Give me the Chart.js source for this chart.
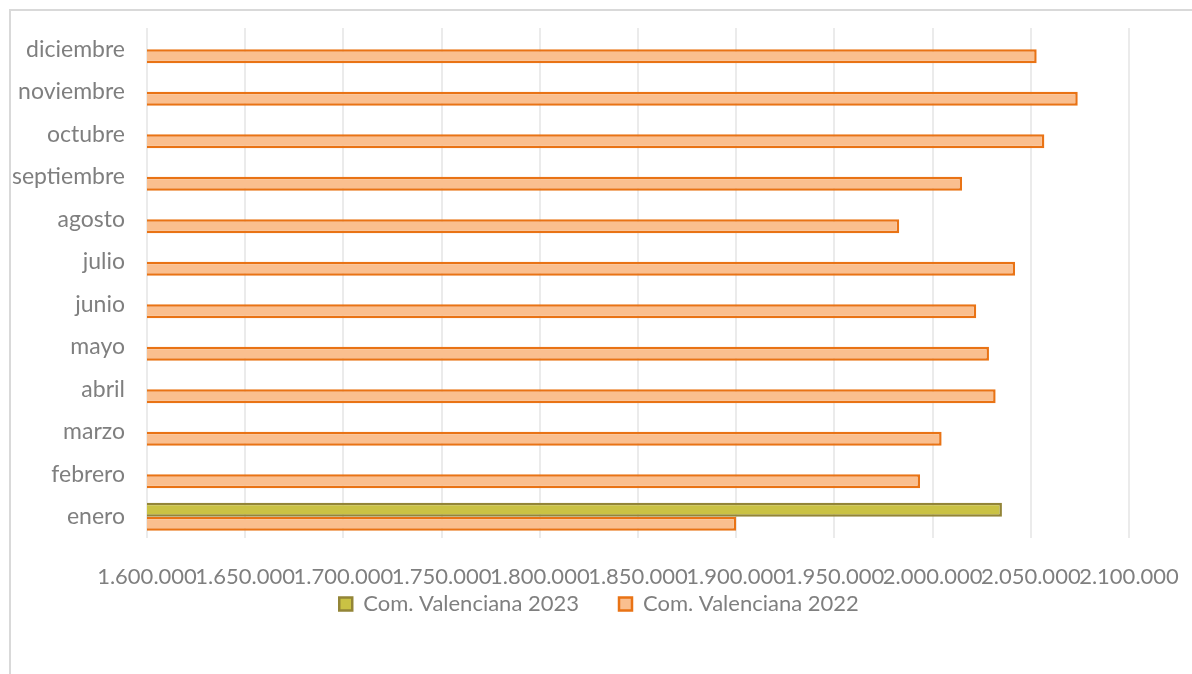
<!DOCTYPE html>
<html>
<head>
<meta charset="utf-8">
<script src="https://cdn.jsdelivr.net/npm/chart.js@4.4.1/dist/chart.umd.min.js"></script>
<style>
  html, body { margin: 0; padding: 0; background: #ffffff; }
  #wrap { width: 1192px; height: 674px; position: relative; }
</style>
</head>
<body>
<div id="wrap"><canvas id="c" width="1192" height="674"></canvas></div>
<script>
const months = ['enero','febrero','marzo','abril','mayo','junio','julio','agosto','septiembre','octubre','noviembre','diciembre'];
const label2023 = 'Com. Valenciana 2023';
const label2022 = 'Com. Valenciana 2022';
const values2023 = [2035300, null, null, null, null, null, null, null, null, null, null, null];
const values2022 = [1900000, 1993600, 2004600, 2032100, 2028700, 2022200, 2042000, 1983000, 2015000, 2056900, 2073900, 2053000];
const xMin = 1600000;
const xMax = 2100000;
const xStep = 50000;

function fmt(v) {
  return String(Math.round(v)).replace(/\B(?=(\d{3})+(?!\d))/g, '.');
}

const frame = {
  id: 'frame',
  beforeDraw(chart) {
    const ctx = chart.ctx;
    ctx.save();
    ctx.fillStyle = '#ffffff';
    ctx.fillRect(0, 0, chart.width, chart.height);
    ctx.strokeStyle = '#d9d9d9';
    ctx.lineWidth = 2;
    ctx.beginPath();
    ctx.moveTo(10, chart.height);
    ctx.lineTo(10, 10);
    ctx.lineTo(chart.width, 10);
    ctx.stroke();
    ctx.restore();
  }
};

// place the legend row just under the tick labels, centred on the page
const legendShift = {
  id: 'legendShift',
  afterLayout(chart) {
    const lg = chart.legend;
    if (lg) {
      const d = lg.top - 553;
      lg.top -= d;
      lg.bottom -= d;
      const cx = (lg.left + lg.right) / 2;
      const dx = 599 - cx;
      lg.left += dx;
      lg.right += dx;
    }
  }
};

const FONT = 'Lato, "Open Sans", sans-serif';
const TXT = '#7f7f7f';

new Chart(document.getElementById('c'), {
  type: 'bar',
  data: {
    labels: months,
    datasets: [
      {
        label: label2023,
        data: values2023,
        backgroundColor: '#cac244',
        borderColor: '#938537',
        borderWidth: 2.5,
        borderSkipped: false,
        categoryPercentage: 0.66,
        barPercentage: 1.0
      },
      {
        label: label2022,
        data: values2022,
        backgroundColor: '#fabf8f',
        borderColor: '#e97315',
        borderWidth: 2.5,
        borderSkipped: false,
        categoryPercentage: 0.66,
        barPercentage: 1.0
      }
    ]
  },
  options: {
    indexAxis: 'y',
    responsive: false,
    animation: false,
    devicePixelRatio: 1,
    layout: { padding: { top: 28, left: 0, right: 63, bottom: 0 } },
    scales: {
      x: {
        min: xMin,
        max: xMax,
        border: { display: false },
        grid: { color: '#ebebeb', lineWidth: 2, drawTicks: false },
        ticks: {
          stepSize: xStep,
          autoSkip: false,
          maxRotation: 0,
          padding: 26,
          color: TXT,
          font: { family: FONT, size: 22 },
          callback: (v) => fmt(v)
        },
        afterFit(scale) {
          scale.height = 66;
          scale.paddingLeft = 0;
          scale.paddingRight = 0;
        }
      },
      y: {
        reverse: true,
        border: { display: false },
        grid: { display: false, drawTicks: false },
        ticks: {
          padding: 22,
          color: TXT,
          font: { family: FONT, size: 23 }
        },
        afterFit(scale) {
          scale.width = 147;
          scale.paddingTop = 0;
          scale.paddingBottom = 0;
        }
      }
    },
    plugins: {
      legend: {
        position: 'bottom',
        maxHeight: 70,
        labels: {
          boxWidth: 13,
          boxHeight: 13,
          padding: 40,
          color: TXT,
          font: { family: FONT, size: 22 }
        }
      },
      tooltip: { enabled: false }
    }
  },
  plugins: [frame, legendShift]
});
</script>
</body>
</html>
